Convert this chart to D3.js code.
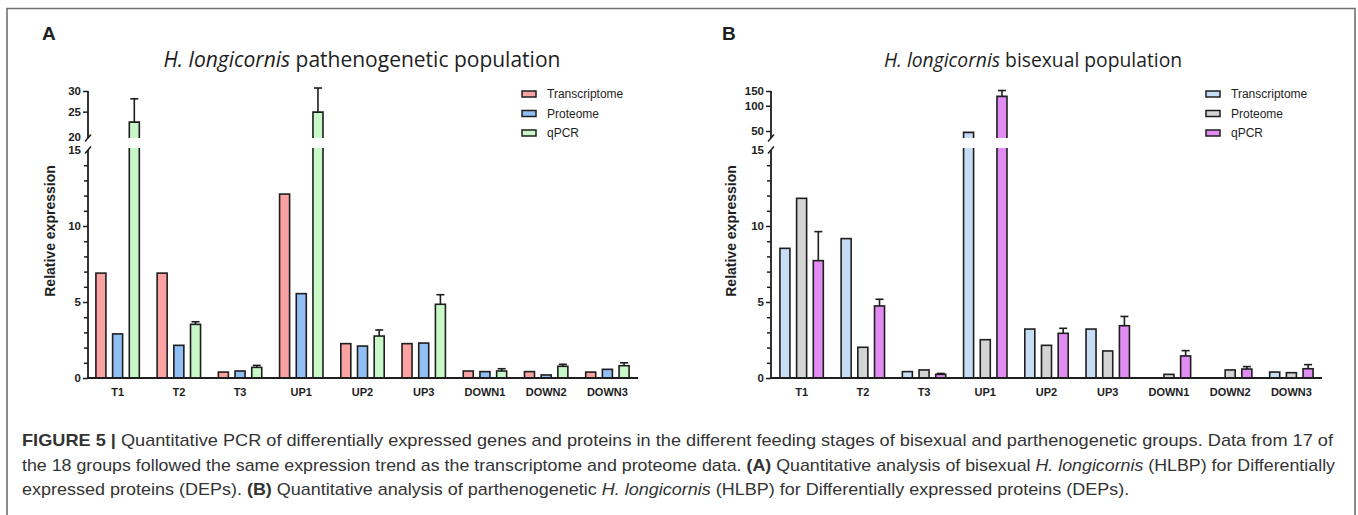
<!DOCTYPE html>
<html>
<head>
<meta charset="utf-8">
<script src="https://cdn.jsdelivr.net/npm/d3@7"></script>
<style>
  html, body { margin: 0; padding: 0; background: #fff; }
  svg { display: block; }
  .chart text { font-family: "Liberation Sans", Arial, sans-serif; fill: #1e1e1e; }
</style>
</head>
<body>
<svg id="fig" width="1358" height="515"></svg>
<script>
// ---------------- DATA ----------------
const categories = ["T1", "T2", "T3", "UP1", "UP2", "UP3", "DOWN1", "DOWN2", "DOWN3"];
const seriesNames = ["Transcriptome", "Proteome", "qPCR"];

// Panel A: H. longicornis pathenogenetic population
const aTranscriptome = [6.9, 6.9, 0.39, 12.1, 2.26, 2.26, 0.46, 0.42, 0.39];
const aProteome      = [2.9, 2.15, 0.46, 5.55, 2.1, 2.3, 0.42, 0.2, 0.57];
const aQPCR          = [22.8, 3.53, 0.7, 24.9, 2.76, 4.85, 0.46, 0.77, 0.81];
const aQPCRsd        = [5.2, 0.17, 0.13, 5.9, 0.4, 0.63, 0.15, 0.13, 0.19];
const aLowerTicks    = [0, 5, 10, 15];
const aUpperTicks    = [20, 25, 30];

// Panel B: H. longicornis bisexual population
const bTranscriptome = [8.53, 9.17, 0.42, 48.2, 3.22, 3.22, null, null, 0.39];
const bProteome      = [11.82, 2.02, 0.53, 2.52, 2.15, 1.78, 0.24, 0.53, 0.35];
const bQPCR          = [7.72, 4.74, 0.24, 129.5, 2.94, 3.44, 1.45, 0.59, 0.61];
const bQPCRsd        = [1.91, 0.44, 0.06, 22.5, 0.33, 0.61, 0.35, 0.16, 0.27];
const bLowerTicks    = [0, 5, 10, 15];
const bUpperTicks    = [50, 100, 150];

const captionLines = [
  [["b", "FIGURE 5 | "], ["", "Quantitative PCR of differentially expressed genes and proteins in the different feeding stages of bisexual and parthenogenetic groups. Data from 17 of"]],
  [["", "the 18 groups followed the same expression trend as the transcriptome and proteome data. "], ["b", "(A)"], ["", " Quantitative analysis of bisexual "], ["i", "H. longicornis"], ["", " (HLBP) for Differentially"]],
  [["", "expressed proteins (DEPs). "], ["b", "(B)"], ["", " Quantitative analysis of parthenogenetic "], ["i", "H. longicornis"], ["", " (HLBP) for Differentially expressed proteins (DEPs)."]]
];

// ---------------- DRAW ----------------
const svg = d3.select("#fig");

// frame
svg.append("path")
  .attr("d", "M7,520 V8.5 H1355 V520")
  .attr("fill", "none").attr("stroke", "#707070").attr("stroke-width", 1.6);

const ink = "#1e1e1e";

const panels = [
  {
    letter: "A", letterX: 42, title: "pathenogenetic population", titleX: 362, titleSize: 21,
    axisX: 88, xRange: [87, 638],
    values: [aTranscriptome, aProteome, aQPCR], sd: aQPCRsd,
    colors: ["#fba3a3", "#91bef5", "#c8f8c8"],
    lowerTicks: aLowerTicks, upperTicks: aUpperTicks,
    upperDomain: [20, 30], upperRange: [137, 91],
    hideUpperTick: 20,
    legendX: 522, ylabelX: 50
  },
  {
    letter: "B", letterX: 722, title: "bisexual population", titleX: 1033, titleSize: 19.3,
    axisX: 771, xRange: [771, 1322],
    values: [bTranscriptome, bProteome, bQPCR], sd: bQPCRsd,
    colors: ["#c7ddf6", "#d4d4d4", "#e18cf3"],
    lowerTicks: bLowerTicks, upperTicks: bUpperTicks,
    upperDomain: [50, 150], upperRange: [131, 91],
    hideUpperTick: null,
    legendX: 1206, ylabelX: 731
  }
];

const baseY = 378, lowTopVal = 15, lowTopPx = 150;
const lowerBarTop = 148, upperBarBottom = 138, upperAxisBottom = 138;

panels.forEach(p => {
  const g = svg.append("g").attr("class", "chart");

  const x0 = d3.scaleBand().domain(categories).range(p.xRange).padding(0);
  const x1 = d3.scaleBand().domain(seriesNames).range([-21.7, 21.7]).paddingInner(0.4).paddingOuter(0);
  const yLow = d3.scaleLinear().domain([0, lowTopVal]).range([baseY, lowTopPx]);
  const yUp = d3.scaleLog().domain(p.upperDomain).range(p.upperRange);
  const upMin = p.upperDomain[0];

  // letter & title
  g.append("text").attr("x", p.letterX).attr("y", 40)
    .style("font-size", "19px").style("font-weight", "bold").text(p.letter);
  const t = g.append("text").attr("x", p.titleX).attr("y", 67).attr("text-anchor", "middle")
    .style("font-family", "'Open Sans', 'Noto Sans', sans-serif").style("font-size", p.titleSize + "px");
  t.append("tspan").style("font-style", "italic").text("H. longicornis");
  t.append("tspan").text(" " + p.title);

  // y label
  g.append("text")
    .attr("transform", `translate(${p.ylabelX},231) rotate(-90)`)
    .attr("text-anchor", "middle").attr("dy", "0.35em")
    .style("font-size", "14px").style("font-weight", "bold")
    .text("Relative expression");

  // ---- bars ----
  const bw = x1.bandwidth();
  seriesNames.forEach((s, si) => {
    const vals = p.values[si];
    vals.forEach((v, ci) => {
      if (v == null) return;
      const xl = x0(categories[ci]) + x0.bandwidth() / 2 + x1(s);
      const xr = xl + bw;
      const col = p.colors[si];
      if (v <= lowTopVal) {
        g.append("rect").attr("x", xl).attr("y", yLow(v)).attr("width", bw)
          .attr("height", yLow(0) - yLow(v))
          .attr("fill", col).attr("stroke", ink).attr("stroke-width", 1.6);
      } else {
        // lower piece (cut at top)
        g.append("rect").attr("x", xl).attr("y", lowerBarTop).attr("width", bw)
          .attr("height", yLow(0) - lowerBarTop).attr("fill", col);
        g.append("path").attr("d", `M${xl},${lowerBarTop} V${yLow(0)} H${xr} V${lowerBarTop}`)
          .attr("fill", "none").attr("stroke", ink).attr("stroke-width", 1.6);
        // upper piece (cut at bottom)
        const yt = yUp(Math.max(v, upMin * 0.5));
        const yTop = Math.min(yt, upperBarBottom);
        g.append("rect").attr("x", xl).attr("y", yTop).attr("width", bw)
          .attr("height", upperBarBottom - yTop).attr("fill", col);
        g.append("path").attr("d", `M${xl},${upperBarBottom} V${yTop} H${xr} V${upperBarBottom}`)
          .attr("fill", "none").attr("stroke", ink).attr("stroke-width", 1.6);
      }
      // error bars (qPCR only)
      if (si === 2 && p.sd[ci] != null) {
        const top = v + p.sd[ci];
        const yScale = v > lowTopVal ? yUp : yLow;
        const xc = (xl + xr) / 2;
        g.append("line").attr("x1", xc).attr("x2", xc)
          .attr("y1", yScale(v)).attr("y2", yScale(top))
          .attr("stroke", ink).attr("stroke-width", 1.6);
        g.append("line").attr("x1", xc - 4).attr("x2", xc + 4)
          .attr("y1", yScale(top)).attr("y2", yScale(top))
          .attr("stroke", ink).attr("stroke-width", 1.6);
      }
    });
  });

  // ---- axes ----
  const lowAx = g.append("g").attr("transform", `translate(${p.axisX},0)`)
    .call(d3.axisLeft(yLow).tickValues(p.lowerTicks).tickSize(5).tickSizeOuter(0).tickPadding(2));
  lowAx.select(".domain").remove();
  lowAx.selectAll(".tick").filter(d => d === lowTopVal).select("line").remove();
  const minor = d3.range(1, lowTopVal).filter(d => d % 5 !== 0);
  const lowMin = g.append("g").attr("transform", `translate(${p.axisX},0)`)
    .call(d3.axisLeft(yLow).tickValues(minor).tickSize(4).tickFormat(""));
  lowMin.select(".domain").remove();
  const upAx = g.append("g").attr("transform", `translate(${p.axisX},0)`)
    .call(d3.axisLeft(yUp).tickValues(p.upperTicks).tickSize(5).tickSizeOuter(0).tickPadding(2)
      .tickFormat(d3.format("d")));
  upAx.select(".domain").remove();
  if (p.hideUpperTick != null)
    upAx.selectAll(".tick").filter(d => d === p.hideUpperTick).select("line").remove();

  g.selectAll(".tick text").style("font-size", "11.5px").style("font-weight", "bold")
    .style("font-family", "'Liberation Sans', Arial, sans-serif").attr("fill", ink);
  g.selectAll(".tick line").attr("stroke", ink).attr("stroke-width", 1.5);

  // axis lines
  g.append("line").attr("x1", p.axisX).attr("x2", p.axisX)
    .attr("y1", lowTopPx).attr("y2", baseY + 1).attr("stroke", ink).attr("stroke-width", 1.8);
  g.append("line").attr("x1", p.axisX).attr("x2", p.axisX)
    .attr("y1", yUp(p.upperDomain[1])).attr("y2", upperAxisBottom).attr("stroke", ink).attr("stroke-width", 1.8);
  [upperAxisBottom, lowTopPx].forEach(yy => {
    g.append("line").attr("x1", p.axisX - 3).attr("x2", p.axisX + 3)
      .attr("y1", yy + 3.5).attr("y2", yy - 3.5).attr("stroke", ink).attr("stroke-width", 1.5);
  });
  g.append("line").attr("x1", p.axisX).attr("x2", p.xRange[1])
    .attr("y1", baseY).attr("y2", baseY).attr("stroke", ink).attr("stroke-width", 2);

  const xAx = g.append("g").attr("transform", `translate(0,${baseY})`)
    .call(d3.axisBottom(x0).tickSize(0).tickPadding(10));
  xAx.select(".domain").remove();
  xAx.selectAll("text").style("font-size", "11px").style("font-weight", "bold")
    .style("font-family", "'Liberation Sans', Arial, sans-serif").attr("fill", ink);

  const lg = g.append("g").attr("transform", `translate(${p.legendX},0)`);
  seriesNames.forEach((s, i) => {
    const yy = 94 + i * 19.5;
    lg.append("rect").attr("x", 0).attr("y", yy - 3).attr("width", 14).attr("height", 6)
      .attr("fill", p.colors[i]).attr("stroke", ink).attr("stroke-width", 1.5);
    lg.append("text").attr("x", 25).attr("y", yy).attr("dy", "0.35em")
      .style("font-size", "12px").text(s);
  });
});

// caption
const capX = 22, capY = [446, 471, 495], capW = [1311, 1313, null];
const capTexts = captionLines.map((line, li) => {
  const tx = svg.append("text").attr("x", capX).attr("y", capY[li])
    .style("font-family", "'Liberation Sans Narrow', 'Liberation Sans', Arial, sans-serif")
    .style("font-size", "17px").attr("fill", "#333");
  line.forEach(([st, txt]) => {
    const ts = tx.append("tspan").text(txt);
    if (st === "b") ts.style("font-weight", "bold");
    if (st === "i") ts.style("font-style", "italic");
  });
  return tx;
});
const naturals = capTexts.map(t => t.node().getComputedTextLength());
const ratio = (capW[0] / naturals[0] + capW[1] / naturals[1]) / 2;
capTexts.forEach((t, i) => {
  const w = capW[i] != null ? capW[i] : naturals[i] * ratio;
  t.attr("textLength", w).attr("lengthAdjust", "spacingAndGlyphs");
});
</script>
</body>
</html>
